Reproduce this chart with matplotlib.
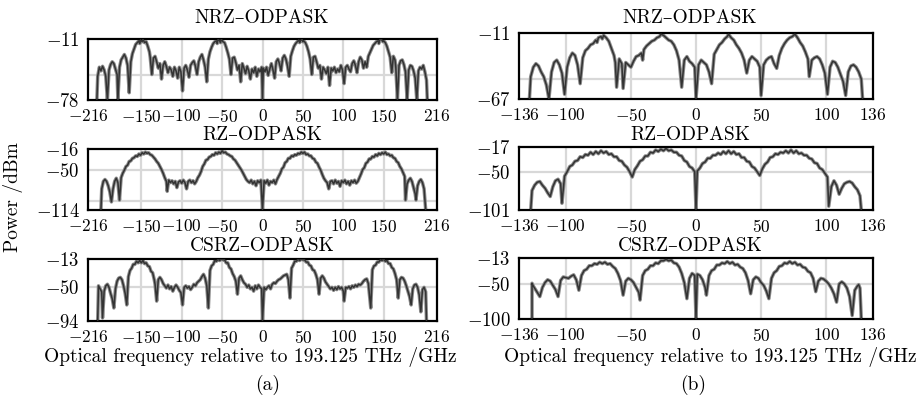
import numpy as np
import matplotlib
matplotlib.use("Agg")
import matplotlib.pyplot as plt

plt.rcParams["font.family"] = ["cmr10", "DejaVu Serif"]
plt.rcParams["mathtext.fontset"] = "cm"
plt.rcParams["axes.formatter.use_mathtext"] = True

# spectra: (frequency offset GHz, power dBm)
nrz_a = [(-205,-78),(-204,-52),(-202,-42),(-200,-46),(-198,-41),(-196,-45),(-194,-52),(-192,-78),
    (-190,-45),(-188,-39),(-186,-36),(-184,-38),(-182,-44),(-180,-50),(-179,-78),
    (-177,-42),(-175,-34),(-173,-31),(-171,-28),(-169,-32),(-167,-40),(-165,-70),
    (-163,-36),(-161,-27),(-159,-22),(-157,-17),(-155,-15),(-153,-13),(-152,-16),(-151,-12),(-149,-14),(-148,-11),
    (-146,-15),(-144,-14),(-142,-19),(-140,-25),(-139,-31),(-137,-50),
    (-135,-32),(-133,-30),(-131,-36),(-129,-43),(-127,-38),(-125,-55),(-123,-40),(-121,-36),(-119,-41),(-117,-48),
    (-115,-42),(-113,-45),(-111,-52),(-109,-42),(-107,-46),(-105,-54),(-103,-42),(-101,-47),(-99,-68),(-97,-43),
    (-95,-40),(-93,-45),(-91,-53),(-89,-40),(-87,-37),(-85,-35),(-83,-41),(-81,-50),(-79,-36),(-77,-31),(-75,-28),
    (-73,-34),(-71,-42),(-69,-58),
    (-67,-33),(-65,-25),(-63,-20),(-61,-16),(-59,-14),(-57,-13),(-56,-16),(-55,-11),(-53,-13),(-52,-15),(-51,-11),
    (-49,-14),(-47,-15),(-45,-20),(-43,-26),(-41,-33),(-39,-50),
    (-37,-32),(-35,-31),(-33,-37),(-31,-45),(-29,-40),(-27,-58),(-25,-38),(-23,-43),(-21,-49),(-19,-41),(-17,-46),
    (-15,-55),(-13,-44),(-11,-48),(-9,-42),(-7,-52),(-5,-44),(-3,-47),(-1,-42),(0,-78),
    (1,-43),(3,-47),(5,-42),(7,-51),(9,-44),(11,-38),(13,-45),(15,-54),(17,-36),(19,-33),(21,-38),(23,-46),
    (25,-32),(27,-29),(29,-33),(31,-41),(33,-52),
    (35,-30),(37,-24),(39,-19),(41,-16),(43,-14),(45,-12),(46,-15),(47,-13),(49,-11),(50,-14),(51,-13),(53,-15),
    (55,-19),(57,-25),(59,-33),(61,-50),
    (63,-31),(65,-30),(67,-36),(69,-43),(71,-40),(73,-55),(75,-42),(77,-45),(79,-49),(81,-42),(83,-62),(85,-43),
    (87,-46),(89,-42),(91,-48),(93,-44),(95,-47),(97,-40),(99,-45),(101,-60),(103,-42),(105,-40),(107,-44),
    (109,-47),(111,-38),(113,-35),(115,-40),(117,-48),(119,-36),(121,-31),(123,-34),(125,-43),(127,-36),(129,-42),
    (131,-30),(133,-26),(135,-22),(137,-18),(139,-16),(141,-14),(143,-13),(144,-16),(145,-12),(147,-11),(149,-14),
    (150,-13),(152,-15),(154,-19),(156,-25),(158,-31),(160,-48),
    (162,-30),(164,-34),(165,-42),(167,-78),(169,-40),(171,-35),(173,-34),(175,-39),(177,-47),(179,-78),
    (181,-45),(183,-40),(185,-41),(187,-46),(189,-54),(191,-78),(193,-46),(195,-42),(197,-44),(199,-40),
    (201,-47),(203,-56),(204,-78)]

nrz_b = [(-128,-67),(-127,-48),(-125,-40),(-123,-37),(-121,-39),(-119,-44),(-117,-48),(-115,-55),(-113,-67),
    (-111,-44),(-109,-36),(-107,-34),(-105,-38),(-103,-45),(-101,-63),
    (-99,-40),(-97,-32),(-95,-28),(-93,-30),(-91,-38),(-89,-54),
    (-87,-32),(-85,-26),(-83,-24),(-81,-21),(-79,-20),(-77,-17),(-76,-19),(-75,-15),(-73,-14),(-72,-16),(-71,-13),
    (-69,-15),(-67,-18),(-65,-24),(-63,-30),(-62,-36),(-61,-57),
    (-59,-33),(-57,-37),(-56,-58),(-54,-36),(-52,-38),(-50,-40),(-48,-35),(-46,-31),(-44,-30),(-42,-28),(-41,-34),
    (-40,-25),(-38,-22),(-36,-20),(-34,-18),(-32,-17),(-30,-15),(-28,-14),(-27,-12),(-25,-13),(-23,-15),(-21,-17),
    (-19,-18),(-17,-21),(-15,-26),(-13,-34),(-11,-57),
    (-9,-34),(-7,-31),(-5,-35),(-3,-37),(-1,-40),(0,-67),
    (2,-38),(4,-34),(6,-36),(8,-38),(10,-44),(12,-54),(14,-29),(16,-25),(18,-21),(20,-19),(22,-16),(24,-14),
    (25,-12),(27,-15),(29,-17),(31,-21),(33,-24),(35,-28),(37,-34),(39,-45),(41,-34),(43,-31),(45,-33),(47,-35),
    (49,-40),(50,-64),
    (52,-38),(54,-34),(56,-32),(58,-31),(60,-37),(62,-41),(64,-30),(66,-24),(68,-20),(70,-17),(72,-15),(74,-14),
    (76,-12),(78,-15),(80,-19),(82,-22),(84,-27),(86,-33),(87,-48),
    (89,-34),(91,-32),(93,-31),(95,-33),(97,-38),(99,-45),(101,-63),
    (103,-40),(105,-35),(107,-36),(109,-40),(111,-46),(113,-52),(115,-64),
    (117,-44),(119,-39),(121,-38),(123,-40),(125,-44),(127,-50),(128,-67)]

rz_a = [(-200,-114),(-199,-80),(-197,-68),(-195,-65),(-193,-68),(-191,-75),(-189,-85),(-187,-101),
    (-185,-80),(-183,-68),(-181,-63),(-179,-70),(-177,-98),
    (-175,-62),(-173,-55),(-171,-50),(-169,-44),(-167,-42),(-165,-36),(-163,-35),(-161,-31),(-159,-30),
    (-157,-27),(-155,-28),(-153,-24),(-151,-26),(-149,-22),(-147,-24),(-145,-21),(-143,-23),(-141,-22),
    (-139,-25),(-137,-26),(-135,-29),(-133,-32),(-131,-36),(-129,-39),(-127,-44),(-125,-49),(-123,-55),
    (-121,-62),(-119,-68),(-118,-84),
    (-116,-66),(-114,-70),(-112,-67),(-110,-72),(-108,-68),(-106,-78),(-104,-69),(-102,-67),(-100,-71),(-98,-66),
    (-96,-70),(-94,-80),(-92,-68),(-90,-66),(-88,-70),(-86,-67),(-84,-72),(-82,-68),(-80,-62),(-78,-58),
    (-76,-52),(-74,-44),(-72,-40),(-70,-34),(-68,-33),(-66,-29),(-64,-28),(-62,-25),(-60,-26),(-58,-22),
    (-56,-24),(-54,-21),(-52,-23),(-50,-19),(-48,-22),(-46,-21),(-44,-24),(-42,-25),(-40,-27),(-38,-28),
    (-36,-32),(-34,-34),(-32,-38),(-30,-42),(-28,-46),(-26,-50),(-24,-55),(-22,-60),(-20,-65),(-18,-68),
    (-16,-70),(-14,-66),(-12,-72),(-10,-68),(-8,-75),(-6,-67),(-4,-70),(-2,-66),(0,-114),(2,-67),(4,-71),
    (6,-66),(8,-74),(10,-68),(12,-70),(14,-66),(16,-72),(18,-65),(20,-60),
    (22,-55),(24,-48),(26,-45),(28,-38),(30,-36),(32,-31),(34,-31),(36,-27),(38,-28),(40,-25),(42,-26),(44,-23),
    (46,-24),(48,-21),(50,-23),(52,-21),(54,-25),(56,-24),(58,-27),(60,-27),(62,-31),(64,-32),(66,-37),(68,-39),
    (70,-45),(72,-50),(74,-57),(76,-63),(78,-67),
    (80,-70),(82,-80),(84,-68),(86,-67),(88,-72),(90,-66),(92,-71),(94,-68),(96,-76),(98,-67),(100,-70),(102,-66),
    (104,-72),(106,-68),(108,-74),(110,-67),(112,-70),(114,-66),(116,-71),(118,-68),(120,-62),
    (122,-56),(124,-49),(126,-46),(128,-39),(130,-37),(132,-32),(134,-32),(136,-28),(138,-29),(140,-25),
    (142,-27),(144,-23),(146,-25),(148,-22),(150,-24),(152,-21),(154,-25),(156,-24),(158,-27),(160,-26),
    (162,-30),(164,-31),(166,-36),(168,-38),(170,-44),(172,-48),(174,-54),(176,-60),(177,-98),
    (179,-72),(181,-66),(183,-63),(185,-68),(187,-78),(189,-88),(190,-98),
    (192,-75),(194,-68),(196,-65),(198,-70),(200,-80),(202,-114)]

rz_b = [(-127,-101),(-126,-75),(-124,-68),(-122,-64),(-120,-63),(-118,-68),(-116,-72),(-114,-78),(-112,-83),
    (-110,-70),(-108,-62),(-106,-60),(-104,-66),(-103,-92),
    (-101,-56),(-99,-50),(-97,-43),(-95,-41),(-93,-36),(-91,-35),(-89,-30),(-87,-31),(-85,-27),(-83,-28),
    (-81,-24),(-79,-27),(-77,-23),(-75,-26),(-73,-22),(-71,-25),(-69,-23),(-67,-27),(-65,-26),(-63,-30),
    (-61,-30),(-59,-35),(-57,-36),(-55,-41),(-53,-44),(-51,-50),(-49,-57),
    (-47,-47),(-45,-42),(-43,-36),(-41,-34),(-39,-29),(-37,-29),(-35,-24),(-33,-25),(-31,-21),(-29,-23),
    (-27,-20),(-25,-22),(-23,-19),(-21,-22),(-19,-21),(-17,-24),(-15,-24),(-13,-28),(-11,-29),(-9,-35),
    (-7,-37),(-5,-43),(-3,-45),(-1,-50),(0,-101),
    (1,-49),(3,-45),(5,-39),(7,-37),(9,-32),(11,-32),(13,-28),(15,-28),(17,-25),(19,-27),(21,-23),(23,-26),
    (25,-22),(27,-26),(29,-23),(31,-27),(33,-26),(35,-31),(37,-31),(39,-36),(41,-37),(43,-43),(45,-45),
    (47,-50),(49,-55),
    (51,-46),(53,-40),(55,-37),(57,-31),(59,-30),(61,-26),(63,-27),(65,-24),(67,-25),(69,-22),(71,-25),
    (73,-21),(75,-25),(77,-22),(79,-26),(81,-25),(83,-28),(85,-28),(87,-32),(89,-33),(91,-38),(93,-39),
    (95,-45),(97,-47),(99,-52),(101,-57),(102,-96),
    (104,-70),(106,-62),(108,-68),(110,-80),(112,-72),(114,-66),(116,-64),(118,-63),(120,-65),(122,-70),
    (124,-74),(126,-82),(127,-101)]

csrz_a = [(-204,-94),(-203,-48),(-201,-52),(-199,-56),(-198,-90),
    (-196,-55),(-194,-48),(-192,-46),(-190,-50),(-188,-58),(-186,-65),(-184,-77),
    (-182,-52),(-180,-42),(-178,-38),(-176,-37),(-174,-40),(-172,-48),(-170,-58),(-168,-73),
    (-166,-36),(-164,-28),(-162,-25),(-160,-20),(-158,-20),(-156,-16),(-154,-18),(-152,-15),(-150,-18),
    (-148,-15),(-146,-19),(-144,-18),(-142,-22),(-140,-23),(-138,-29),(-136,-31),(-134,-40),(-133,-46),(-131,-68),
    (-129,-40),(-127,-37),(-125,-40),(-123,-45),(-121,-48),(-119,-51),(-117,-47),(-115,-52),(-113,-49),
    (-111,-55),(-109,-50),(-107,-47),(-105,-50),(-103,-54),(-101,-57),(-99,-73),
    (-97,-50),(-95,-48),(-93,-51),(-91,-49),(-89,-53),(-87,-50),(-85,-46),(-83,-48),(-81,-44),(-79,-42),
    (-77,-40),(-75,-36),(-73,-33),(-71,-38),(-69,-48),(-67,-77),
    (-65,-28),(-63,-22),(-61,-20),(-59,-15),(-57,-16),(-55,-13),(-53,-15),(-51,-13),(-49,-14),(-47,-14),
    (-45,-18),(-43,-18),(-41,-24),(-39,-26),(-37,-32),(-35,-36),(-33,-42),(-31,-59),
    (-29,-38),(-27,-35),(-25,-40),(-23,-44),(-21,-46),(-19,-50),(-17,-47),(-15,-52),(-13,-50),(-11,-55),
    (-9,-48),(-7,-52),(-5,-47),(-3,-50),(-1,-52),(0,-94),
    (2,-50),(4,-53),(6,-50),(8,-48),(10,-52),(12,-46),(14,-44),(16,-45),(18,-42),(20,-40),(22,-39),(24,-37),
    (26,-35),(28,-34),(30,-33),(32,-40),(34,-64),
    (36,-25),(38,-21),(40,-16),(42,-16),(44,-13),(46,-15),(48,-13),(50,-14),(52,-14),(54,-17),(56,-17),
    (58,-21),(60,-22),(62,-27),(64,-28),(66,-33),(68,-40),(70,-59),
    (72,-38),(74,-35),(76,-38),(78,-43),(80,-46),(82,-49),(84,-52),(86,-50),(88,-54),(90,-50),(92,-53),
    (94,-49),(96,-52),(98,-50),(100,-55),(101,-68),
    (103,-50),(105,-51),(107,-49),(109,-52),(111,-48),(113,-50),(115,-47),(117,-49),(119,-46),(121,-47),
    (123,-45),(125,-42),(127,-40),(129,-39),(131,-45),(134,-77),
    (136,-27),(138,-22),(140,-21),(142,-17),(144,-17),(146,-14),(148,-15),(150,-13),(152,-16),(154,-15),
    (156,-19),(158,-19),(160,-24),(162,-26),(164,-32),(166,-40),(168,-64),
    (170,-40),(172,-37),(174,-38),(176,-42),(178,-48),(180,-55),(182,-62),(184,-73),
    (186,-52),(188,-47),(190,-46),(192,-50),(194,-60),(196,-82),
    (198,-53),(200,-50),(202,-56),(203,-94)]

csrz_b = [(-126,-100),(-126,-49),(-125,-53),(-124,-56),(-122,-62),(-120,-68),
    (-118,-55),(-116,-48),(-114,-44),(-112,-46),(-110,-52),(-108,-58),(-106,-68),
    (-104,-45),(-102,-40),(-100,-41),(-98,-42),(-96,-39),(-94,-37),(-92,-44),(-90,-59),
    (-88,-38),(-86,-31),(-84,-29),(-82,-24),(-80,-24),(-78,-21),(-76,-22),(-74,-19),(-72,-21),(-70,-19),
    (-68,-22),(-66,-21),(-64,-25),(-62,-28),(-60,-35),(-58,-45),(-56,-66),
    (-54,-46),(-52,-42),(-50,-44),(-48,-48),(-46,-55),(-44,-62),(-43,-73),
    (-41,-38),(-39,-31),(-37,-29),(-35,-24),(-33,-24),(-31,-20),(-29,-21),(-27,-17),(-25,-17),(-23,-15),
    (-21,-17),(-19,-16),(-17,-20),(-15,-21),(-13,-26),(-11,-35),(-9,-48),(-7,-71),
    (-5,-42),(-3,-35),(-1,-38),(0,-100),(1,-36),(3,-38),(5,-44),(7,-55),(8,-66),
    (10,-38),(12,-31),(14,-29),(16,-23),(18,-23),(20,-20),(22,-21),(24,-18),(26,-21),(28,-19),(30,-23),
    (32,-22),(34,-26),(36,-28),(38,-34),(40,-45),(42,-64),
    (44,-44),(46,-40),(48,-42),(50,-48),(52,-52),(54,-60),(56,-71),
    (58,-42),(60,-34),(62,-31),(64,-25),(66,-24),(68,-20),(70,-21),(72,-18),(74,-21),(76,-19),(78,-23),
    (80,-22),(82,-26),(84,-27),(86,-32),(88,-34),(90,-42),(92,-61),
    (94,-46),(96,-42),(98,-43),(100,-46),(102,-50),(104,-56),(106,-64),(108,-76),
    (110,-50),(112,-47),(114,-50),(116,-56),(118,-68),(120,-95),
    (122,-59),(124,-53),(125,-51),(126,-56),(127,-100)]

ticks_a = [-216, -150, -100, -50, 0, 50, 100, 150, 216]
ticks_b = [-136, -100, -50, 0, 50, 100, 136]

titles = ["NRZ–ODPASK", "RZ–ODPASK", "CSRZ–ODPASK"]
ylims_a = [(-78, -11), (-114, -16), (-94, -13)]
ylims_b = [(-67, -11), (-101, -17), (-100, -13)]
ylabels_a = [[-78, -11], [-114, -50, -16], [-94, -50, -13]]
ylabels_b = [[-67, -11], [-101, -50, -17], [-100, -50, -13]]
hgrid_a = [[-50], [-100, -50], [-50]]
hgrid_b = [[-50], [-50], [-50]]

W, H = 918, 397
fig = plt.figure(figsize=(W / 100, H / 100), dpi=100)


def px_axes(x0, y0, x1, y1):
    return fig.add_axes([x0 / W, 1 - y1 / H, (x1 - x0) / W, (y1 - y0) / H])


def draw(ax, data, ticks, ylim, ylab, hgrid, title, tx, ty):
    f, p = np.array(data, dtype=float).T
    for v in ticks[1:-1]:
        ax.axvline(v, color="#d8d8d8", lw=1.6, zorder=0)
    for v in hgrid:
        ax.axhline(v, color="#d8d8d8", lw=1.6, zorder=0)
    ax.plot(f, p, color="#8c8c8c", lw=2.5, zorder=2)
    ax.plot(f, p, color="#333333", lw=1.1, zorder=3)
    ax.set_xlim(ticks[0], ticks[-1])
    ax.set_ylim(*ylim)
    ax.set_xticks(ticks)
    ax.set_xticklabels(["$%d$" % v for v in ticks])
    ax.set_yticks(ylab)
    ax.set_yticklabels(["$%d$" % v for v in ylab])
    ax.tick_params(length=0, pad=6)
    ax.tick_params(axis="x", labelsize=12.5)
    ax.tick_params(axis="y", labelsize=13.5)
    for s in ax.spines.values():
        s.set_linewidth(1.6)
    fig.text(tx / W, 1 - ty / H, title, fontsize=14, ha="center", va="center")


rows_a = [(39, 100), (149, 210), (259, 321)]
rows_b = [(33, 99), (147, 210), (258, 319)]
title_y = [18, 135, 246]
data_a = [nrz_a, rz_a, csrz_a]
data_b = [nrz_b, rz_b, csrz_b]

for i in range(3):
    ax = px_axes(88, rows_a[i][0], 437, rows_a[i][1])
    draw(ax, data_a[i], ticks_a, ylims_a[i], ylabels_a[i], hgrid_a[i], titles[i], 262, title_y[i])
    ax = px_axes(519, rows_b[i][0], 873, rows_b[i][1])
    draw(ax, data_b[i], ticks_b, ylims_b[i], ylabels_b[i], hgrid_b[i], titles[i], 690, title_y[i])

fig.text(13 / W, 1 - 197 / H, "Power /dBm", rotation=90, fontsize=14, ha="center", va="center")
xlab = "Optical frequency relative to 193.125 THz /GHz"
fig.text(250 / W, 1 - 357 / H, xlab, fontsize=14, ha="center", va="center")
fig.text(710 / W, 1 - 357 / H, xlab, fontsize=14, ha="center", va="center")
fig.text(268 / W, 1 - 385 / H, "(a)", fontsize=14, ha="center", va="center")
fig.text(693 / W, 1 - 385 / H, "(b)", fontsize=14, ha="center", va="center")

fig.savefig("out.png", dpi=100)
